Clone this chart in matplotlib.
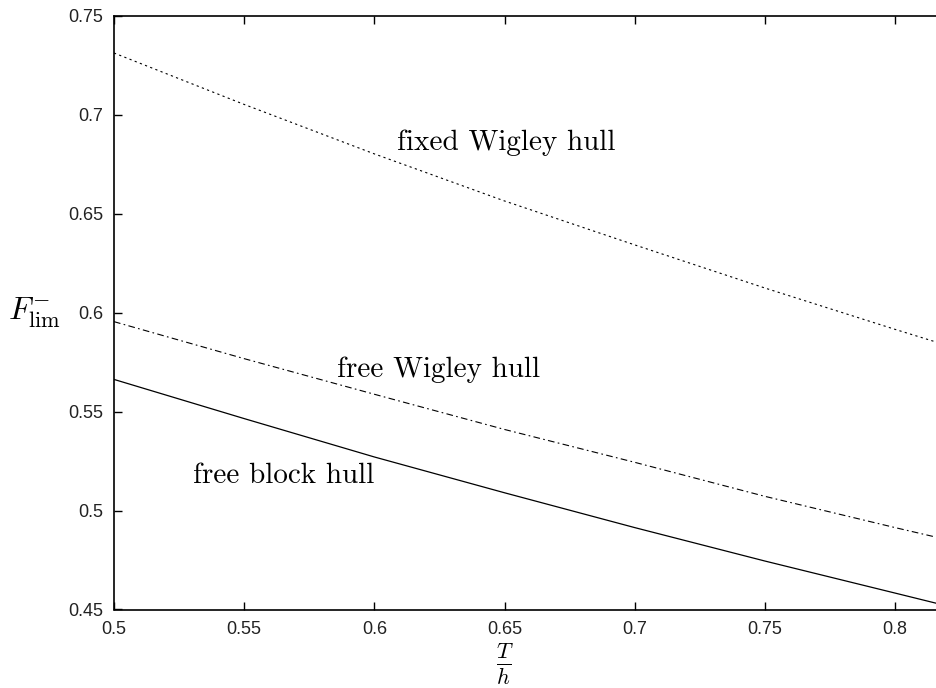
import matplotlib
matplotlib.use("Agg")
import matplotlib.pyplot as plt

plt.rcParams['mathtext.fontset'] = 'cm'

t_over_h = [0.5, 0.55, 0.6, 0.65, 0.7, 0.75, 0.8, 0.816]
fixed_wigley = [0.7313, 0.7053, 0.6803, 0.6565, 0.6343, 0.6125, 0.5916, 0.5851]
free_wigley = [0.5955, 0.5768, 0.5588, 0.5410, 0.5244, 0.5072, 0.4914, 0.4865]
free_block = [0.5663, 0.5465, 0.5271, 0.5090, 0.4914, 0.4745, 0.4583, 0.4531]

xticks = [0.5, 0.55, 0.6, 0.65, 0.7, 0.75, 0.8]
yticks = [0.45, 0.5, 0.55, 0.6, 0.65, 0.7, 0.75]
labels = ["fixed Wigley hull", "free Wigley hull", "free block hull"]

fig = plt.figure(figsize=(9.37, 6.88), dpi=100)
ax = fig.add_axes([114/937, 1-609.5/688, 823/937, 593.5/688])

ax.plot(t_over_h, fixed_wigley, color='black', lw=0.8, linestyle=(0, (2, 3)))
ax.plot(t_over_h, free_wigley, color='black', lw=0.8, linestyle=(0, (6, 3, 1.5, 3)))
ax.plot(t_over_h, free_block, color='black', lw=0.9, linestyle='-')

ax.set_xlim(0.5, 0.8161)
ax.set_ylim(0.45, 0.75)
ax.set_xticks(xticks)
ax.set_yticks(yticks)
ax.set_xticklabels([f"{v:g}" for v in xticks])
ax.set_yticklabels([f"{v:g}" for v in yticks])
ax.tick_params(direction='in', length=6, width=1, top=True, right=False,
               labelsize=13, pad=8, labelcolor='#222222')
for lab in ax.get_xticklabels() + ax.get_yticklabels():
    lab.set_family('Liberation Sans')
ax.spines['right'].set_visible(False)
for s in ['left', 'bottom', 'top']:
    ax.spines[s].set_linewidth(1.2)

txt_font = dict(family='cmr10', fontsize=21)
ax.text(0.6087, 0.6858, labels[0], va='center', ha='left', **txt_font)
ax.text(0.5855, 0.5710, labels[1], va='center', ha='left', **txt_font)
ax.text(0.5305, 0.5176, labels[2], va='center', ha='left', **txt_font)

fig.text(8/937, 1-313/688, r'$F^{-}_{\rm lim}$', fontsize=23, va='center', ha='left')
fig.text(505/937, 1/688, r'$\frac{T}{h}$', fontsize=23, va='bottom', ha='center')

fig.savefig("out.png", dpi=100)
